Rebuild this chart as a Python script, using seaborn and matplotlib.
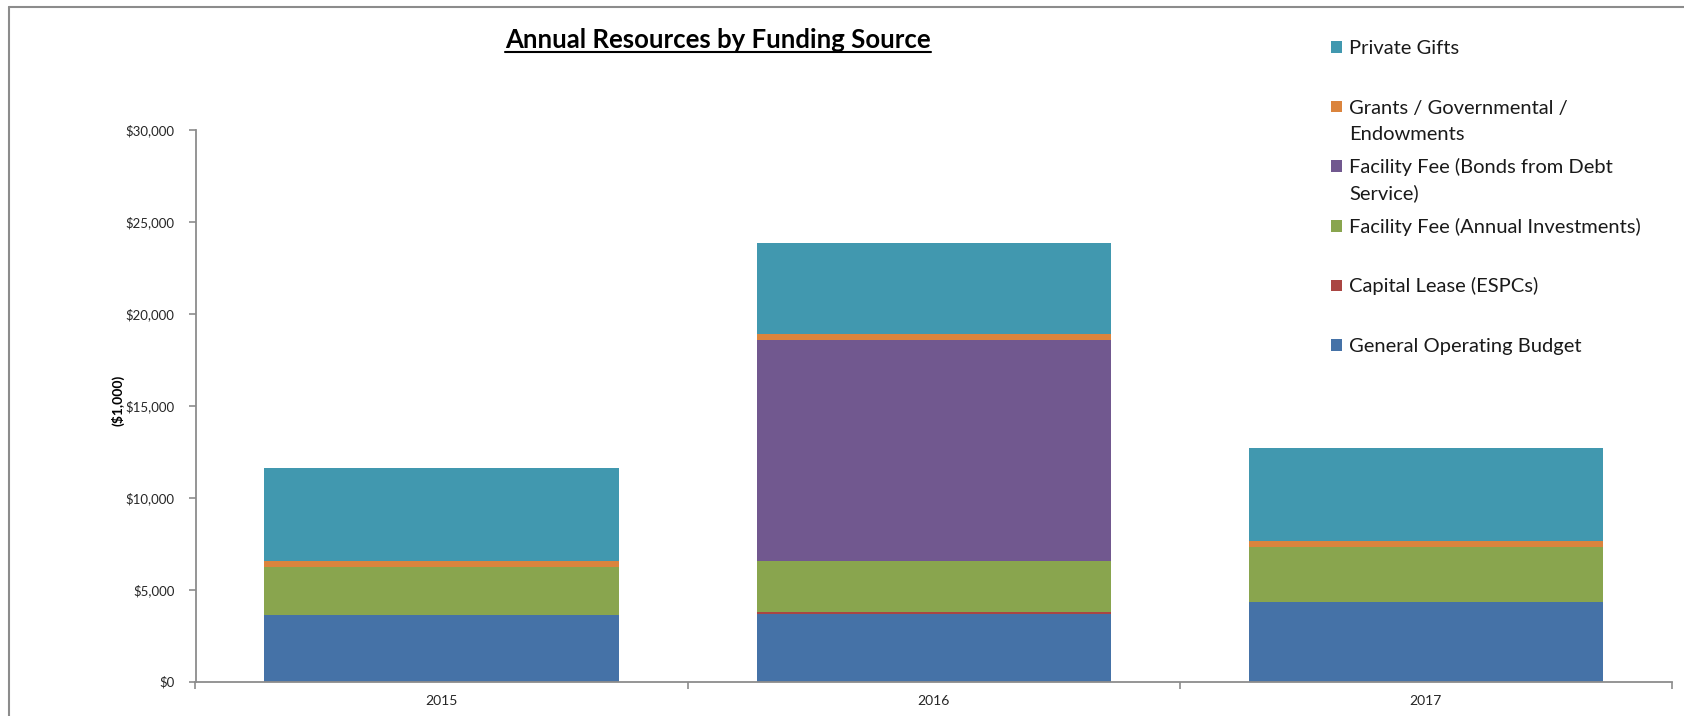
import matplotlib
matplotlib.use("Agg")
import matplotlib.pyplot as plt
from matplotlib.lines import Line2D
from matplotlib.patches import Rectangle
from matplotlib.ticker import FuncFormatter, FixedLocator, NullFormatter
import seaborn as sns
import pandas as pd

# Fiscal years shown on the x axis
years = [2015, 2016, 2017]

# Funding sources, listed top of stack first (also the legend order)
sources = [
    "Private Gifts",
    "Grants / Governmental /\nEndowments",
    "Facility Fee (Bonds from Debt\nService)",
    "Facility Fee (Annual Investments)",
    "Capital Lease (ESPCs)",
    "General Operating Budget",
]

# Amounts in $1,000 per source and year
private_gifts = [5040, 4950, 5040]
grants_endowments = [340, 360, 360]
facility_fee_bonds = [0, 11990, 0]
facility_fee_annual = [2645, 2790, 2970]
capital_lease = [0, 80, 0]
general_operating = [3590, 3680, 4320]

colors = ["#4198AF", "#DB843D", "#71588F", "#89A54E", "#AA4643", "#4572A7"]

series = [private_gifts, grants_endowments, facility_fee_bonds,
          facility_fee_annual, capital_lease, general_operating]

rows = []
for src, vals in zip(sources, series):
    for yr, v in zip(years, vals):
        rows.append({"year": yr, "source": src, "amount": v})
df = pd.DataFrame(rows)

sns.set_theme(style="white")
plt.rcParams["font.family"] = ["Lato", "DejaVu Sans"]

W, H = 1684, 716
fig = plt.figure(figsize=(W / 100, H / 100), dpi=100)
fig.patch.set_facecolor("white")

ax_left, ax_right = 195.5, 1672.0
ax_top, ax_bottom = 129.5, 681.5
ax = fig.add_axes([ax_left / W, 1 - ax_bottom / H,
                   (ax_right - ax_left) / W, (ax_bottom - ax_top) / H])

sns.histplot(
    data=df, x="year", weights="amount", hue="source",
    hue_order=sources, palette=dict(zip(sources, colors)),
    multiple="stack", discrete=True, shrink=0.72,
    alpha=1, linewidth=0, legend=False, ax=ax,
)

ax.set_xlim(2014.5, 2017.5)
ax.set_ylim(0, 30000)
ax.set_yticks(range(0, 30001, 5000))
ax.yaxis.set_major_formatter(FuncFormatter(lambda v, p: f"${int(v):,}"))

ax.set_xticks(years)
ax.set_xticklabels([str(y) for y in years])
ax.xaxis.set_minor_locator(FixedLocator([2014.5, 2015.5, 2016.5, 2017.5]))
ax.xaxis.set_minor_formatter(NullFormatter())

axis_gray = "#8C8C8C"
for side in ["top", "right"]:
    ax.spines[side].set_visible(False)
for side in ["left", "bottom"]:
    ax.spines[side].set_color(axis_gray)
    ax.spines[side].set_linewidth(1.3)

ax.tick_params(axis="y", which="major", direction="out", length=5, width=1.2,
               color=axis_gray, left=True, pad=10, labelsize=9.5,
               labelcolor="#262626")
ax.tick_params(axis="x", which="major", length=0, pad=10, labelsize=10,
               labelcolor="#262626")
ax.tick_params(axis="x", which="minor", direction="out", length=5, width=1.2,
               color=axis_gray, bottom=True)

ax.set_xlabel("")
ax.set_ylabel("($1,000)", fontsize=10, fontweight="bold", color="#000000")
ax.yaxis.set_label_coords((124.5 - ax_left) / (ax_right - ax_left),
                          (ax_bottom - 400) / (ax_bottom - ax_top))

# Title, bold and underlined
title_base = 47.5
title = fig.text(718 / W, 1 - title_base / H,
                 "Annual Resources by Funding Source",
                 ha="center", va="baseline", fontsize=18.5, fontweight="bold",
                 color="#000000")
fig.canvas.draw()
bb = title.get_window_extent(renderer=fig.canvas.get_renderer())
uy = 1 - (title_base + 4) / H
fig.add_artist(Line2D([bb.x0 / W, bb.x1 / W], [uy, uy],
                      transform=fig.transFigure, color="#000000", lw=1.5))

# Legend on the right side, one row per source
leg_x_box = 1330.5
leg_x_text = 1349
leg_y0 = 47
leg_step = 59.6
line_gap = 26
box = 11.5
for i, (src, col) in enumerate(zip(sources, colors)):
    yc = leg_y0 + i * leg_step
    fig.add_artist(Rectangle((leg_x_box / W, 1 - (yc + box / 2) / H),
                             box / W, box / H, transform=fig.transFigure,
                             facecolor=col, edgecolor="none"))
    for j, line in enumerate(src.split("\n")):
        fig.text(leg_x_text / W, 1 - (yc + 7 + j * line_gap) / H, line,
                 ha="left", va="baseline", fontsize=14.5, color="#1a1a1a")

# Chart-area frame (left and top edges visible)
frame_col = "#8C8C8C"
fig.add_artist(Line2D([9 / W, 9 / W], [0, 1 - 7 / H],
                      transform=fig.transFigure, color=frame_col, lw=1.5))
fig.add_artist(Line2D([9 / W, 1], [1 - 7 / H, 1 - 7 / H],
                      transform=fig.transFigure, color=frame_col, lw=1.5))

fig.savefig("out.png", dpi=100, facecolor="white")
